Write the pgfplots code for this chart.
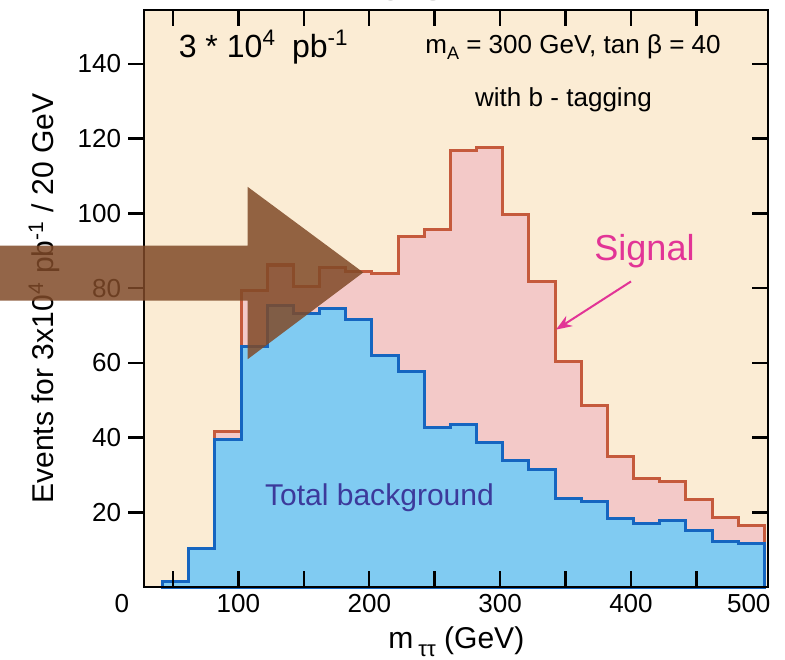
\documentclass[border=0pt]{standalone}
\usepackage{fontspec}
\setmainfont{Liberation Sans}
\usepackage{pgfplots}
\usepackage{pgfplotstable}
\usetikzlibrary{arrows.meta}
\pgfplotsset{compat=1.18}

\definecolor{bgbeige}{RGB}{251,236,212}
\definecolor{sigfill}{RGB}{243,201,200}
\definecolor{sigline}{RGB}{197,90,60}
\definecolor{bkgfill}{RGB}{128,203,242}
\definecolor{bkgline}{RGB}{21,101,192}
\definecolor{sigtext}{RGB}{226,52,150}
\definecolor{bkgtext}{RGB}{60,58,155}
\definecolor{arrowbrown}{RGB}{128,74,40}

\newcommand{\fs}[1]{\fontsize{#1}{#1}\selectfont}

% left bin edge, signal+background, background (events / 20 GeV)
\pgfplotstableread{
x tot bkg
42 1.4 1.4
62 10.3 10.3
82 41.6 39.6
102 79.5 64.3
122 86.2 75.3
142 80.4 73.3
162 85.6 74.6
182 84.4 71.6
202 83.8 62.1
222 93.7 57.7
242 95.8 42.7
262 116.9 43.4
282 117.6 38.7
302 99.7 34.0
322 81.8 31.5
342 60.5 23.7
362 48.5 22.9
382 34.9 18.4
402 29.0 17.0
422 28.2 17.9
442 23.5 15.2
462 18.6 12.1
482 16.6 11.6
502 16.6 11.6
}\hist

\begin{document}
\begin{tikzpicture}
\begin{axis}[
  width=311.5pt, height=288pt, scale only axis,
  xmin=28, xmax=505, ymin=0, ymax=154.4,
  clip=false, axis on top,
  axis background/.style={fill=bgbeige},
  axis line style={line width=1pt},
  every tick/.style={black, line width=1.2pt},
  major tick length=8pt, tick align=inside,
  xtick={50,100,...,450},
  xticklabels={,100,,200,,300,,400,},
  xtick pos=both, xticklabel pos=lower,
  ytick={20,40,...,140}, ytick pos=right, yticklabels={},
  ticklabel style={font=\fs{13}},
  /pgf/number format/assume math mode=true,
  xlabel={m\,\raisebox{-0.5ex}{\fs{11}ττ} (GeV)},
  xlabel style={font=\fs{15}},
]
\addplot[const plot, fill=sigfill, draw=sigline, line width=1.5pt] table[x=x, y=tot] {\hist} \closedcycle;
\addplot[const plot, fill=bkgfill, draw=bkgline, line width=1.5pt] table[x=x, y=bkg] {\hist} \closedcycle;

\node[font=\fs{13}, anchor=north] at (axis cs:11,0) {0};
\node[font=\fs{13}, anchor=north] at (axis cs:490,0) {500};

\node[anchor=west, font=\fs{16}] at (axis cs:49,144.5) {3 * 10\textsuperscript{4}\enspace pb\textsuperscript{-1}};
\node[font=\fs{13}] at (axis cs:355.7,144.5) {m\raisebox{-0.45ex}{\fs{9}A} = 300 GeV, tan β = 40};
\node[font=\fs{13}] at (axis cs:348.4,130.3) {with b - tagging};
\node[font=\fs{18}, text=sigtext] at (axis cs:410.3,90) {Signal};
\draw[-{Stealth[length=8pt,width=6pt]}, sigtext, line width=1pt] (axis cs:400,81.8) -- (axis cs:342.7,68.9);
\node[font=\fs{15}, text=bkgtext] at (axis cs:207.8,23.9) {Total background};
\node[font=\fs{14}, text=gray, anchor=base] at (axis cs:232,156.9) {CMS};

\coordinate (bbsw) at (axis cs:-82.2,-19.3);
\coordinate (bbne) at (axis cs:517.7,157.1);
\coordinate (p1) at (axis cs:-95,91.4);
\coordinate (p2) at (axis cs:107.1,91.4);
\coordinate (p3) at (axis cs:107.1,107.1);
\coordinate (p4) at (axis cs:195.4,84.2);
\coordinate (p5) at (axis cs:107.1,61.0);
\coordinate (p6) at (axis cs:107.1,76.7);
\coordinate (p7) at (axis cs:-95,76.7);
\end{axis}

\begin{axis}[
  width=311.5pt, height=288pt, scale only axis,
  xmin=28, xmax=505, ymin=0, ymax=154.4,
  hide x axis, axis line style={draw=none},
  every tick/.style={black, line width=1.2pt},
  major tick length=8pt, tick align=outside,
  ytick={20,40,...,140}, ytick pos=left,
  ticklabel style={font=\fs{13}},
  /pgf/number format/assume math mode=true,
  ylabel={Events for 3x10\textsuperscript{4} pb\textsuperscript{-1} / 20 GeV},
  ylabel style={font=\fs{15}}, ylabel shift=2pt,
]
\end{axis}

\fill[arrowbrown, opacity=0.85] (p1) -- (p2) -- (p3) -- (p4) -- (p5) -- (p6) -- (p7) -- cycle;
\pgfresetboundingbox
\path[use as bounding box] (bbsw) rectangle (bbne);
\end{tikzpicture}
\end{document}
